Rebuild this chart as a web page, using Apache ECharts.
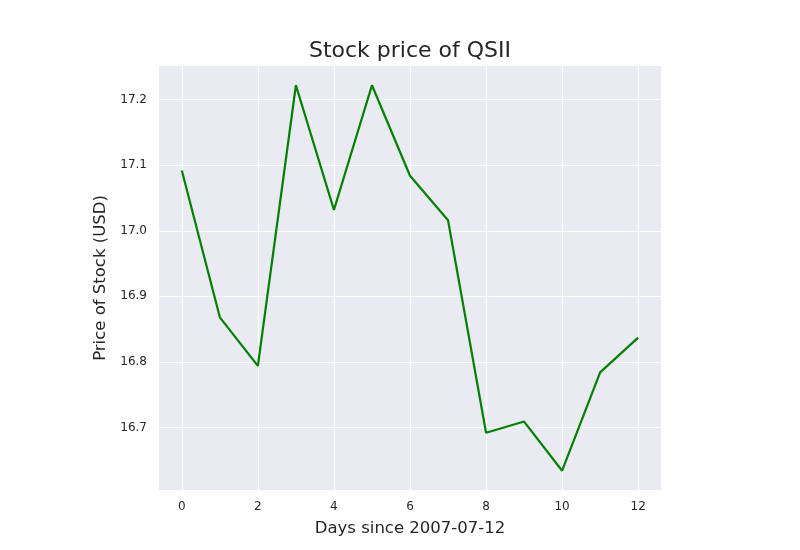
<!DOCTYPE html>
<html>
<head>
<meta charset="utf-8">
<title>Stock price of QSII</title>
<script src="https://cdn.jsdelivr.net/npm/echarts@6/dist/echarts.min.js"></script>
<style>
  html, body { margin: 0; padding: 0; background: #fff; }
  #chart { width: 800px; height: 550px; }
</style>
</head>
<body>
<div id="chart"></div>
<script>
// data
const days = [0, 1, 2, 3, 4, 5, 6, 7, 8, 9, 10, 11, 12]
const prices = [17.092, 16.868, 16.794, 17.222, 17.032, 17.222, 17.084, 17.016, 16.692, 16.709, 16.634, 16.784, 16.837]
const xTicks = [0, 2, 4, 6, 8, 10, 12]
const yTicks = [16.7, 16.8, 16.9, 17.0, 17.1, 17.2]

const font = 'DejaVu Sans'
const chart = echarts.init(document.getElementById('chart'))

chart.setOption({
  animation: false,
  backgroundColor: '#ffffff',
  title: {
    text: 'Stock price of QSII',
    left: 405,
    textAlign: 'center',
    top: 35,
    textStyle: { fontFamily: font, fontSize: 22, fontWeight: 'normal', color: '#262626' }
  },
  grid: {
    left: 159,
    right: 139,
    top: 66,
    bottom: 60,
    show: true,
    backgroundColor: '#eaeaf2',
    borderWidth: 0
  },
  xAxis: {
    type: 'value',
    min: -0.6,
    max: 12.6,
    name: 'Days since 2007-07-12',
    nameLocation: 'middle',
    nameGap: 30,
    nameTextStyle: { fontFamily: font, fontSize: 16.5, color: '#262626' },
    axisLine: { show: false },
    axisTick: { show: false, customValues: xTicks },
    axisLabel: {
      customValues: xTicks,
      margin: 11,
      fontFamily: font, fontSize: 12, color: '#262626'
    },
    splitLine: { show: true, lineStyle: { color: '#ffffff', width: 1.2 } }
  },
  yAxis: {
    type: 'value',
    min: 16.6046,
    max: 17.2514,
    name: 'Price of Stock (USD)',
    nameLocation: 'middle',
    nameGap: 45,
    nameRotate: 90,
    nameTextStyle: { fontFamily: font, fontSize: 16.5, color: '#262626' },
    axisLine: { show: false },
    axisTick: { show: false, customValues: yTicks },
    axisLabel: {
      customValues: yTicks,
      margin: 12,
      fontFamily: font, fontSize: 12, color: '#262626',
      formatter: v => v.toFixed(1)
    },
    splitLine: { show: true, lineStyle: { color: '#ffffff', width: 1.2 } }
  },
  series: [
    {
      type: 'line',
      data: days.map((d, i) => [d, prices[i]]),
      showSymbol: false,
      lineStyle: { color: '#008000', width: 2.2 },
      itemStyle: { color: '#008000' }
    }
  ]
})
</script>
</body>
</html>
